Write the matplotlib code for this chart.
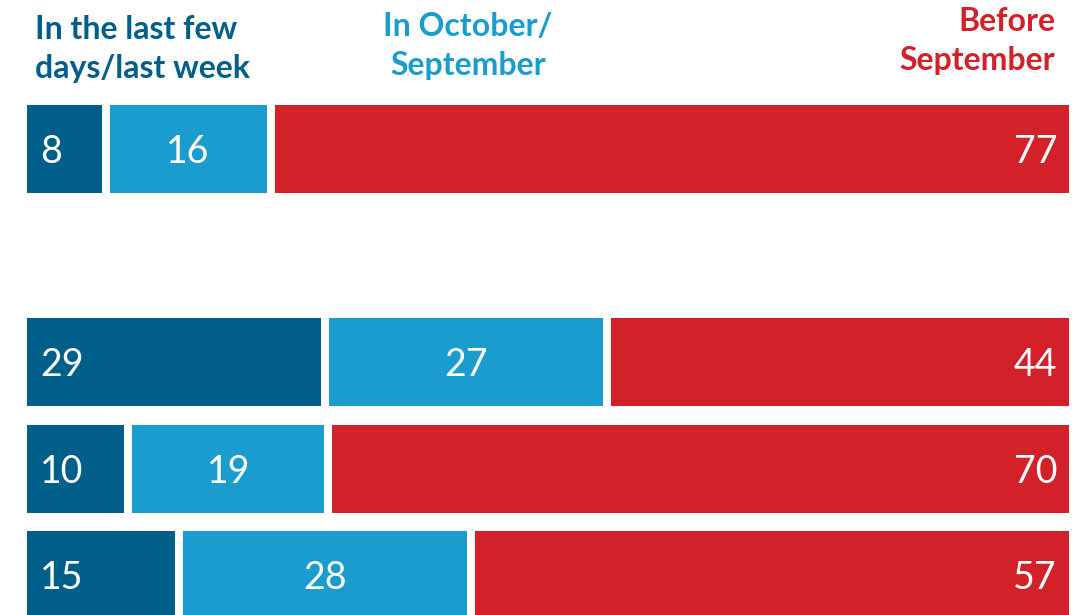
import numpy as np
import matplotlib.pyplot as plt

# share answering each timing, rows top to bottom (row index 1 left empty)
rows = [0, 2, 3, 4]
last_week = [8, 29, 10, 15]
oct_sep = [16, 27, 19, 28]
before_sep = [77, 44, 70, 57]

headers = ["In the last few\ndays/last week", "In October/\nSeptember", "Before\nSeptember"]
colors = ["#005f8a", "#1a9ccf", "#d22128"]

plt.rcParams['font.family'] = ['Lato', 'DejaVu Sans']

W, H = 1079, 615
fig = plt.figure(figsize=(W / 100, H / 100), dpi=100)
ax = fig.add_axes([27 / W, 0, 1042 / W, 1])

data = np.array([last_week, oct_sep, before_sep], dtype=float)
totals = data.sum(axis=0)
frac = data / totals
gap = 8 / 1042
bar_h = 88 / 106.5
dy = 0.03

for i, y in enumerate(rows):
    left = 0.0
    for k in range(3):
        w = frac[k, i]
        draw_w = w - gap if k < 2 else w
        ax.barh(y, draw_w, left=left, height=bar_h, color=colors[k])
        val = str(int(data[k, i]))
        if k == 0:
            ax.text(left + 13 / 1042, y + dy, val, color="white", fontsize=27,
                    ha="left", va="center")
        elif k == 1:
            ax.text(left + draw_w / 2, y + dy, val, color="white", fontsize=27,
                    ha="center", va="center")
        else:
            ax.text(1 - 12 / 1042, y + dy, val, color="white", fontsize=27,
                    ha="right", va="center")
        left += w

ax.set_xlim(0, 1)
ax.set_ylim((615 - 149) / 106.5, -149 / 106.5)
ax.axis("off")

fig.text(35 / W, 1 - 15 / H, headers[0], color=colors[0], fontsize=23,
         fontweight="bold", ha="left", va="top", linespacing=1.4)
fig.text(468 / W, 1 - 12 / H, headers[1], color=colors[1], fontsize=23,
         fontweight="bold", ha="center", va="top", linespacing=1.4)
fig.text(1055 / W, 1 - 7 / H, headers[2], color=colors[2], fontsize=23,
         fontweight="bold", ha="right", va="top", linespacing=1.4)

fig.savefig("out.png", dpi=100)
